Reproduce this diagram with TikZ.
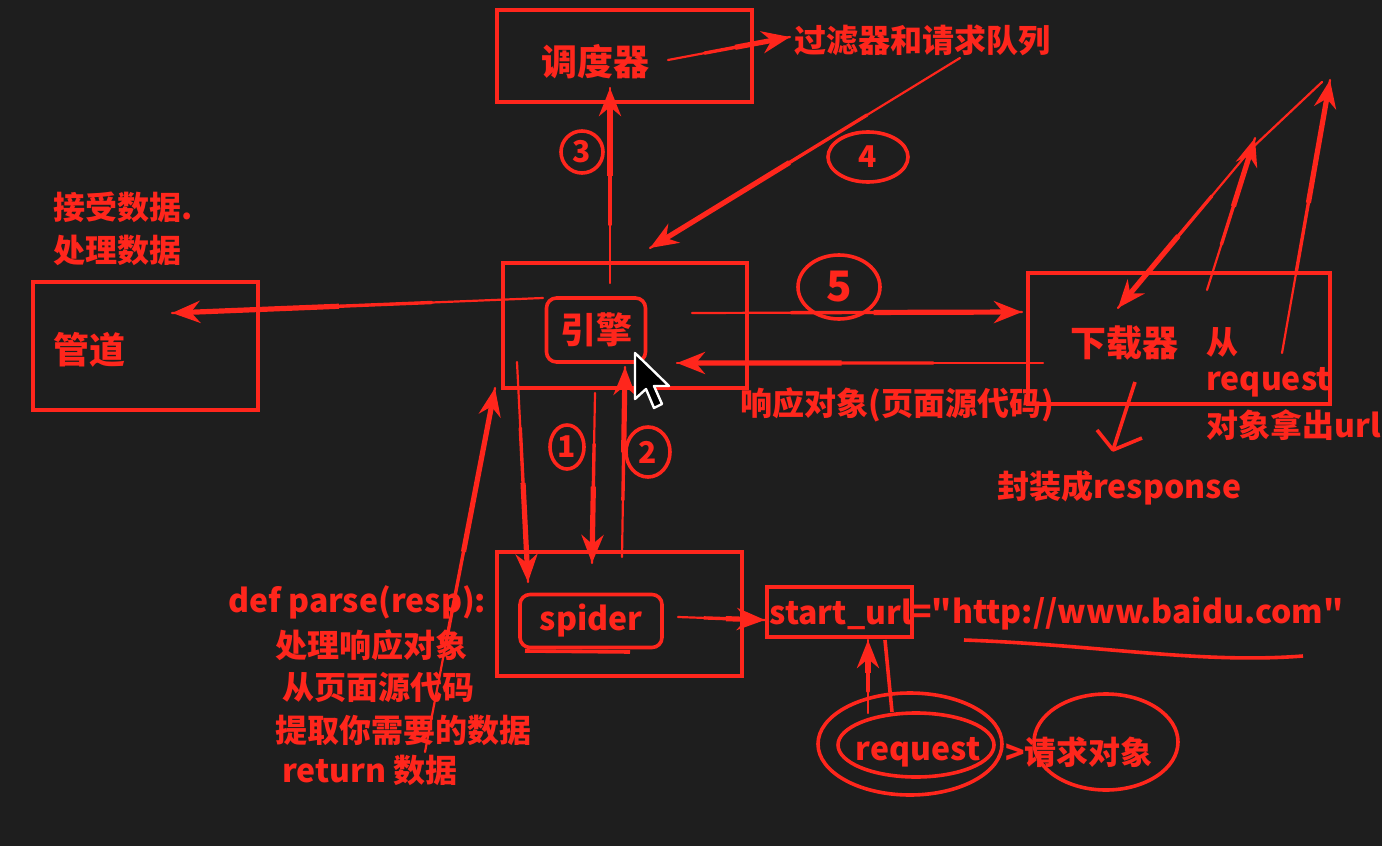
\documentclass[tikz,border=0pt]{standalone}
\usepackage{fontspec}
\setmainfont{Noto Sans CJK SC}
\usetikzlibrary{arrows.meta,calc,shapes.geometric}
\definecolor{bgc}{RGB}{30,30,30}
\definecolor{rd}{RGB}{255,38,28}
\newcommand{\tarr}[2]{\draw[thinln] (#1) -- (#2); \draw[arrmid] ($(#1)!0.3!(#2)$) -- ($(#1)!0.6!(#2)$); \draw[arr] ($(#1)!0.55!(#2)$) -- (#2);}
\begin{document}
\begin{tikzpicture}[x=0.5pt,y=-0.5pt,
  box/.style={draw=rd, line width=2.4pt, inner sep=0pt},
  hand/.style={draw=rd, line width=1.8pt},
  thinln/.style={draw=rd, line width=1.1pt, line cap=round},
  arrmid/.style={draw=rd, line width=1.7pt, line cap=round},
  arr/.style={draw=rd, line width=2.6pt, -{Stealth[length=14pt,width=11pt]}},
  lbl/.style={text=rd, font=\fontsize{16pt}{19pt}\selectfont\bfseries, inner sep=0pt},
  big/.style={text=rd, font=\fontsize{18pt}{21pt}\selectfont\bfseries, inner sep=0pt},
  num/.style={hand, ellipse, inner sep=0pt, text=rd, font=\fontsize{15pt}{17pt}\selectfont\bfseries}
]
\fill[bgc] (0,0) rectangle (1382,846);
\useasboundingbox (0,0) rectangle (1382,846);

% boxes
\node[box, minimum width=127.5pt, minimum height=46pt] (sched) at (624.5,56) {};
\node[box, minimum width=122pt, minimum height=62.5pt] (engine) at (625,325.5) {};
\node[box, minimum width=112.5pt, minimum height=64pt] (pipe) at (145.5,346) {};
\node[box, minimum width=151pt, minimum height=65.5pt] (dl) at (1179,338.5) {};
\node[box, minimum width=122.5pt, minimum height=62pt] (spider) at (619.5,614) {};
\node[box, line width=2pt, minimum width=72.5pt, minimum height=25pt] (su) at (839.5,612) {};

% texts
\node[big] (schedT) at (595,62) {调度器};
\node[lbl, anchor=west] (filt) at (794,40) {过滤器和请求队列};
\node[big, hand, rounded corners=5pt, minimum width=49.5pt, minimum height=32pt] (engT) at (596,330) {引擎};
\node[big] (pipeT) at (90,350) {管道};
\node[lbl, anchor=west] (pipeN1) at (53,207) {接受数据.};
\node[lbl, anchor=west] (pipeN2) at (53,250) {处理数据};
\node[big] (dlT) at (1124,343) {下载器};
\node[lbl, anchor=west] (dlN1) at (1206,342) {从};
\node[lbl, anchor=west] (dlN2) at (1206,382) {request};
\node[lbl, anchor=west] (dlN3) at (1206,425) {对象拿出url};
\node[lbl, anchor=west] (resp) at (740,405) {响应对象(页面源代码)};
\node[lbl, anchor=west] (wrap) at (997,488) {封装成response};
\node[lbl, hand, rounded corners=5pt, minimum width=71pt, minimum height=26.5pt] (spT) at (591,621) {spider};
\node[lbl, anchor=west] (suT) at (769,614) {start\_url};
\node[lbl, anchor=west] (urlT) at (912,614) {=\textquotedbl http://www.baidu.com\textquotedbl};
\node[lbl, anchor=west] (def1) at (228,602) {def parse(resp):};
\node[lbl, anchor=west] (def2) at (275,645) {处理响应对象};
\node[lbl, anchor=west] (def3) at (282,687) {从页面源代码};
\node[lbl, anchor=west] (def4) at (275,730) {提取你需要的数据};
\node[lbl, anchor=west] (def5) at (282,770) {return 数据};
\node[lbl] (reqT) at (918,752) {request};
\node[lbl, anchor=west] (reqObj) at (1005,752) {>请求对象};

% hand-drawn loops
\draw[hand] (910,744) ellipse [x radius=46pt, y radius=25.5pt];
\draw[hand] (916,745) ellipse [x radius=39pt, y radius=16pt];
\draw[hand] (1106,742) ellipse [x radius=36pt, y radius=24pt];
\draw[hand] (525,651) -- (630,652);
\draw[hand] (964,640) .. controls (1100,645) and (1200,664) .. (1303,656);

% circled numbers
\node[num, minimum width=21pt, minimum height=21pt] (c3) at (582,152) {3};
\node[num, minimum width=40pt, minimum height=25pt] (c4) at (868,157) {4};
\node[num, minimum width=41pt, minimum height=32pt, font=\fontsize{21pt}{23pt}\selectfont\bfseries] (c5) at (839,287) {5};
\node[num, minimum width=17pt, minimum height=22pt] (c1) at (567,447) {1};
\node[num, minimum width=22pt, minimum height=25pt] (c2) at (648,452) {2};

% coordinates
\coordinate (a1) at (668,60);   \coordinate (a1e) at (790,37);
\coordinate (a2) at (610,283);  \coordinate (a2e) at (610,88);
\coordinate (a3) at (960,58);   \coordinate (a3e) at (650,248);
\coordinate (a4) at (543,298);  \coordinate (a4e) at (172,313);
\coordinate (a5) at (692,313);  \coordinate (a5e) at (1022,312);
\coordinate (a6) at (1043,363); \coordinate (a6e) at (677,363);
\coordinate (a7) at (517,362);  \coordinate (a7e) at (528,582);
\coordinate (a8) at (595,393);  \coordinate (a8e) at (592,563);
\coordinate (a9) at (622,557);  \coordinate (a9e) at (625,367);
\coordinate (a10) at (425,752); \coordinate (a10e) at (495,388);
\coordinate (a11) at (678,617); \coordinate (a11e) at (765,620);
\coordinate (a12) at (868,713); \coordinate (a12e) at (868,640);
\coordinate (a13) at (885,640); \coordinate (a13e) at (892,712);
\coordinate (r0) at (1322,82);  \coordinate (r1) at (1252,148); \coordinate (r1e) at (1118,308);
\coordinate (r2) at (1207,290); \coordinate (r2e) at (1255,138);
\coordinate (r3) at (1282,353); \coordinate (r3e) at (1330,80);
\coordinate (k0) at (1135,382); \coordinate (k1) at (1113,450);
\coordinate (k2) at (1097,430); \coordinate (k3) at (1142,438);

% connectors
\tarr{a1}{a1e}
\tarr{a2}{a2e}
\tarr{a3}{a3e}
\tarr{a4}{a4e}
\tarr{a5}{a5e}
\tarr{a6}{a6e}
\tarr{a7}{a7e}
\tarr{a8}{a8e}
\tarr{a9}{a9e}
\tarr{a10}{a10e}
\tarr{a11}{a11e}
\tarr{a12}{a12e}
\draw[hand] (a13) -- (a13e);
\draw[thinln] (r0) -- (r1);
\tarr{r1}{r1e}
\tarr{r2}{r2e}
\tarr{r3}{r3e}
\draw[hand] (k0) -- (k1);
\draw[hand, line join=round] (k2) -- (k1) -- (k3);

% mouse cursor
\filldraw[fill=black, draw=white, line width=1.2pt, line join=round]
  (635,353) -- (635,399) -- (646,389) -- (654,408) -- (662,404) -- (654,386) -- (669,386) -- cycle;
\end{tikzpicture}
\end{document}
